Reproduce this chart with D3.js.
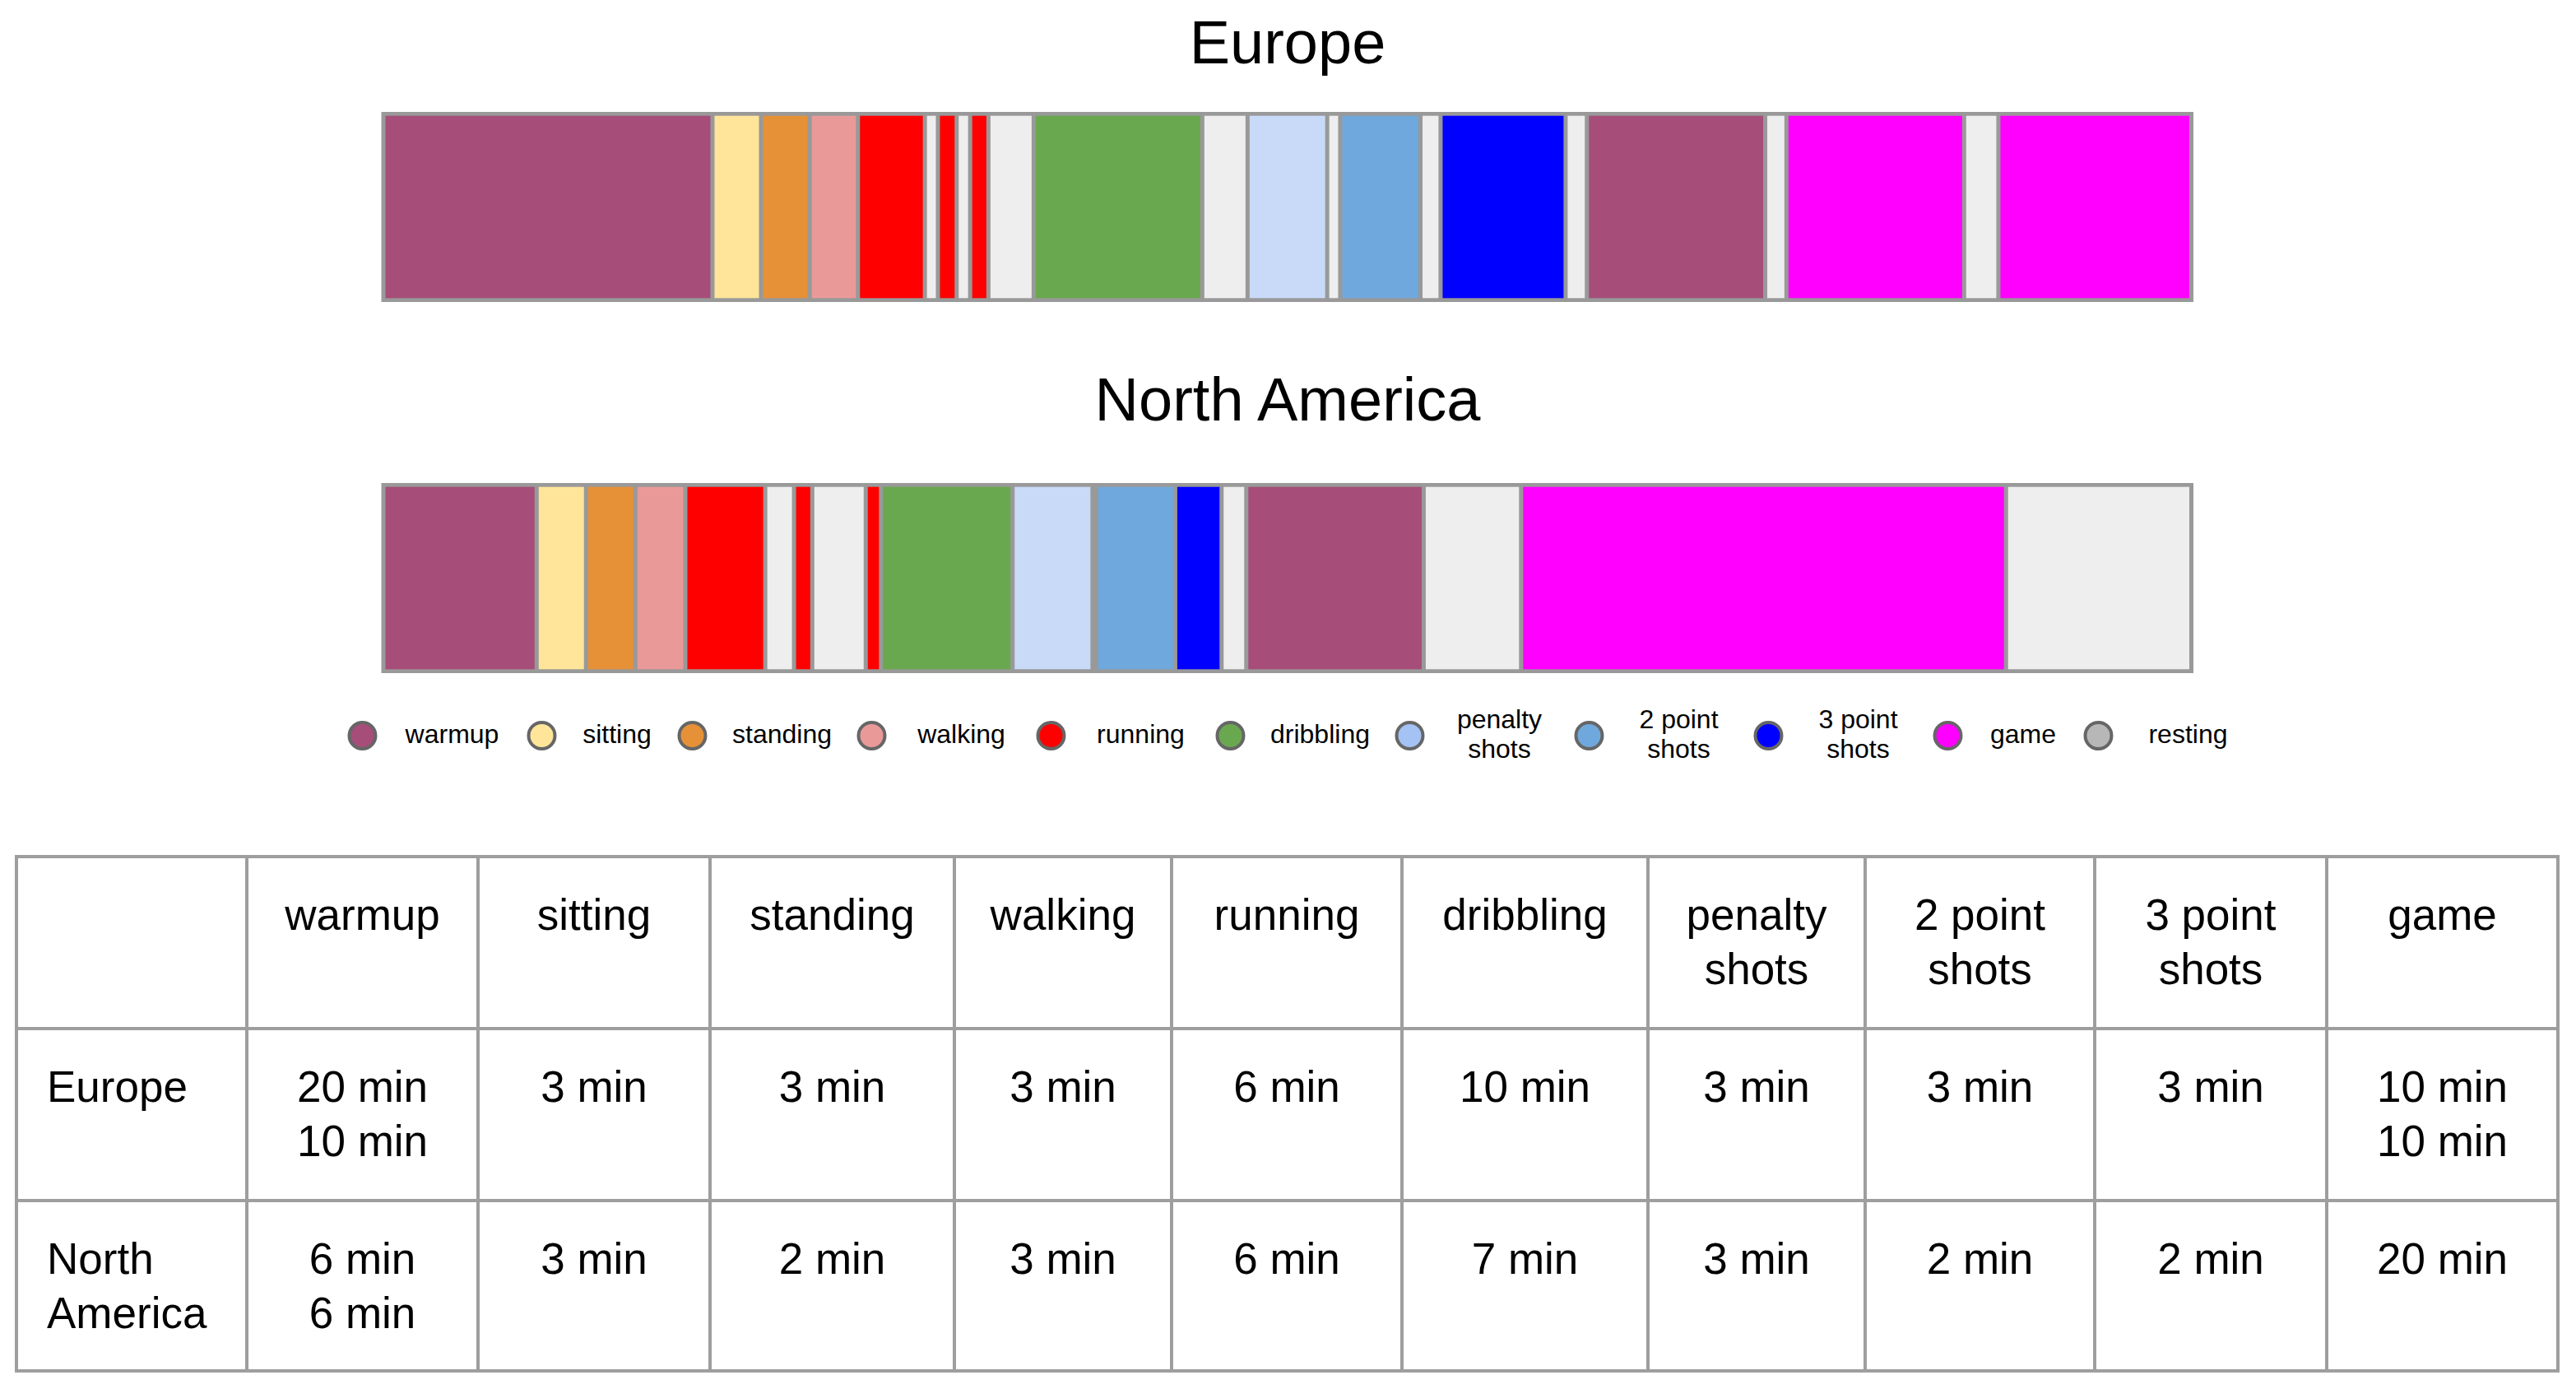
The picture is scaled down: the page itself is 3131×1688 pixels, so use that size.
<!DOCTYPE html>
<html><head><meta charset="utf-8">
<script src="https://cdn.jsdelivr.net/npm/d3@7"></script>
<style>
html,body{margin:0;padding:0;background:#fff;}
svg{display:block;font-family:"Liberation Sans",Arial,Helvetica,sans-serif;}
</style>
</head><body>
<svg id="chart" width="3131" height="1688"></svg>
<script>
// ---------- DATA ----------
const activities = ["warmup","sitting","standing","walking","running","dribbling","penalty shots","2 point shots","3 point shots","game","resting"];
const barColors = ["#a64d79","#ffe599","#e69138","#ea9999","#ff0000","#6aa84f","#c9daf8","#6fa8dc","#0000ff","#ff00ff","#eeeeee"];
const legendColors = ["#a64d79","#ffe599","#e69138","#ea9999","#ff0000","#6aa84f","#a4c2f4","#6fa8dc","#0000ff","#ff00ff","#b7b7b7"];
const legendLabels = ["warmup","sitting","standing","walking","running","dribbling","penalty\nshots","2 point\nshots","3 point\nshots","game","resting"];

const timelineTitles = ["Europe","North America"];
const europeActivities = ["warmup","sitting","standing","walking","running","resting","running","resting","running","resting","dribbling","resting","penalty shots","resting","2 point shots","resting","3 point shots","resting","warmup","resting","game","resting","game"];
const europeMinutes    = [20,2.95,2.96,2.93,4.07,0.79,1.14,0.82,1.11,2.75,10.25,2.75,4.84,0.79,4.88,1.22,7.6,1.29,10.84,1.29,10.8,2.08,11.73];
const naActivities = ["warmup","sitting","standing","walking","running","resting","running","resting","running","dribbling","penalty shots","resting","2 point shots","3 point shots","resting","warmup","resting","game","resting"];
const naMinutes    = [9.32,3.0,3.0,3.04,4.86,1.75,1.11,3.25,0.93,8.0,4.86,0.21,4.82,2.82,1.5,10.79,5.92,29.49,11.27];

const tableHeader = ["","warmup","sitting","standing","walking","running","dribbling","penalty\nshots","2 point\nshots","3 point\nshots","game"];
const tableEurope = ["Europe","20 min\n10 min","3 min","3 min","3 min","6 min","10 min","3 min","3 min","3 min","10 min\n10 min"];
const tableNorthAmerica = ["North\nAmerica","6 min\n6 min","3 min","2 min","3 min","6 min","7 min","3 min","2 min","2 min","20 min"];

// ---------- LAYOUT ----------
const svg = d3.select("#chart");
const W = 3131, CX = 1565;
const colorOf = d3.scaleOrdinal().domain(activities).range(barColors);
const legendColorOf = d3.scaleOrdinal().domain(activities).range(legendColors);
const border = "#999999";

const bars = [
  {title: timelineTitles[0], acts: europeActivities, mins: europeMinutes, titleY: 77, top: 136, bottom: 367},
  {title: timelineTitles[1], acts: naActivities, mins: naMinutes, titleY: 511, top: 587, bottom: 818}
];
const outerL = 463.5, outerR = 2666;

bars.forEach(b => {
  svg.append("text").attr("x", CX).attr("y", b.titleY).attr("text-anchor","middle")
    .attr("font-size", 74).attr("fill","#000").text(b.title);
  const total = d3.sum(b.mins);
  const x = d3.scaleLinear().domain([0, total]).range([outerL + 2.5, outerR - 2.5]);
  let acc = 0;
  const segs = b.mins.map((m,i) => { const s = {act: b.acts[i], start: acc, end: acc + m}; acc += m; return s; });
  const g = svg.append("g");
  g.append("rect").attr("x", outerL).attr("y", b.top).attr("width", outerR - outerL)
    .attr("height", b.bottom - b.top).attr("fill", border);
  const inset = 4.7;
  g.selectAll("rect.seg").data(segs).join("rect").attr("class","seg")
    .attr("x", d => x(d.start) + 2.5)
    .attr("width", d => Math.max(0, x(d.end) - x(d.start) - 5))
    .attr("y", b.top + inset)
    .attr("height", b.bottom - b.top - 2*inset)
    .attr("fill", d => colorOf(d.act));
});

// ---------- LEGEND ----------
const legendY = 894, legendFont = 32;
const lg = svg.append("g").attr("font-size", legendFont);
// measure text widths
const items = activities.map((a,i) => {
  const lines = legendLabels[i].split("\n");
  const t = lg.append("text").attr("font-size", legendFont);
  lines.forEach(l => t.append("tspan").attr("x",0).text(l));
  const w = t.node().getBBox().width;
  t.remove();
  return {act: a, lines, tw: w, cell: w < 90 ? 183 : 218};
});
const span = 18 + d3.sum(items.slice(0, -1), d => d.cell) + items[items.length-1].cell/2 + items[items.length-1].tw/2;
let cx = CX - span/2 + 18;
items.forEach(it => { it.cx = cx; cx += it.cell; });
items.forEach(it => {
  lg.append("circle").attr("cx", it.cx).attr("cy", legendY).attr("r", 16)
    .attr("fill", legendColorOf(it.act)).attr("stroke", "#666666").attr("stroke-width", 4);
  const tx = it.cx + it.cell/2;
  const lh = 36.7;
  const y0 = legendY + 9 - (it.lines.length - 1) * lh / 2;
  const t = lg.append("text").attr("text-anchor","middle").attr("fill","#000");
  it.lines.forEach((l,k) => t.append("tspan").attr("x", tx).attr("y", y0 + k*lh).text(l));
});

// ---------- TABLE ----------
const colEdges = [20, 300, 581, 863, 1160, 1424, 1704, 2003, 2267, 2546, 2828, 3109];
const rowEdges = [1041, 1250, 1459, 1666];
const tableRows = [tableHeader, tableEurope, tableNorthAmerica];
const tg = svg.append("g");
const gridColor = "#9e9e9e", gridW = 4;
colEdges.forEach(xv => tg.append("line").attr("x1", xv).attr("x2", xv)
  .attr("y1", rowEdges[0] - gridW/2).attr("y2", rowEdges[rowEdges.length-1] + gridW/2)
  .attr("stroke", gridColor).attr("stroke-width", gridW));
rowEdges.forEach(yv => tg.append("line").attr("y1", yv).attr("y2", yv)
  .attr("x1", colEdges[0] - gridW/2).attr("x2", colEdges[colEdges.length-1] + gridW/2)
  .attr("stroke", gridColor).attr("stroke-width", gridW));
tableRows.forEach((row, r) => {
  row.forEach((cell, c) => {
    if (!cell) return;
    const lines = cell.split("\n");
    const first = c === 0;
    const tx = first ? colEdges[0] + 37 : (colEdges[c] + colEdges[c+1]) / 2;
    const t = tg.append("text").attr("font-size", 53).attr("fill","#000")
      .attr("text-anchor", first ? "start" : "middle");
    lines.forEach((l,k) => t.append("tspan").attr("x", tx).attr("y", rowEdges[r] + 89 + k*66).text(l));
  });
});
</script>
</body></html>
